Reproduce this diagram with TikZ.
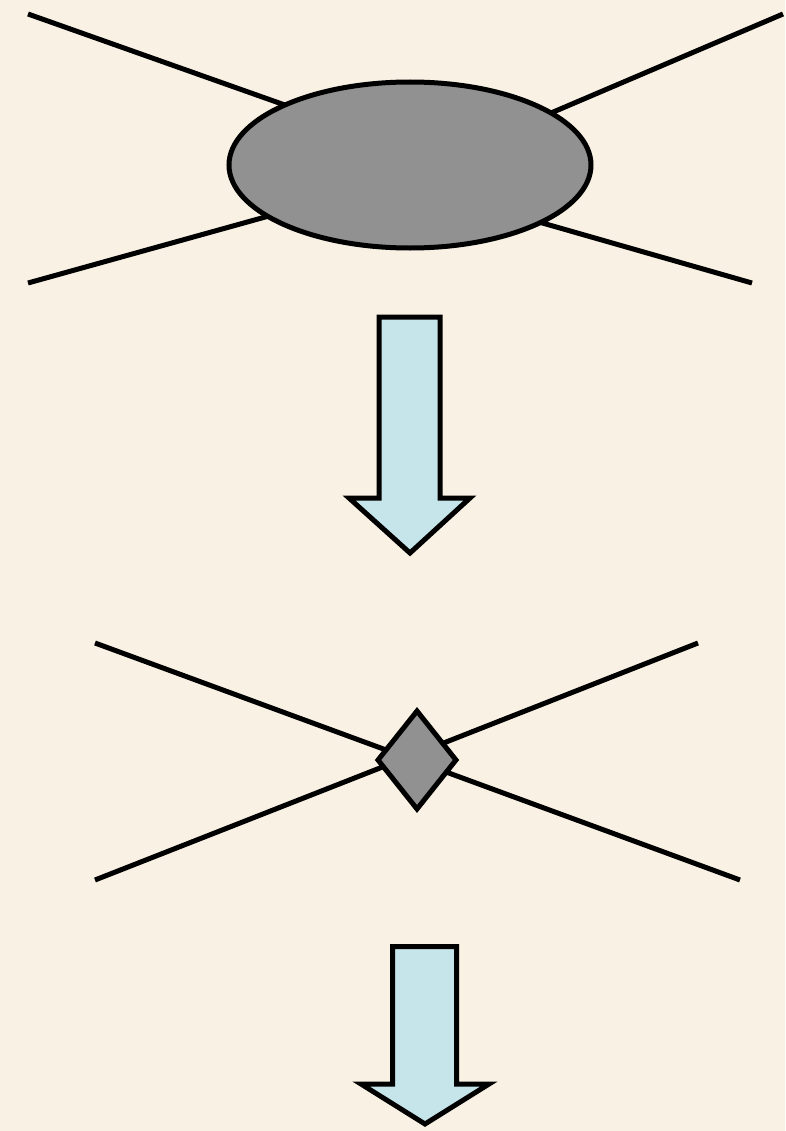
\documentclass[tikz,border=0pt]{standalone}
\usetikzlibrary{shapes.geometric}
\definecolor{bg}{RGB}{249,242,228}
\definecolor{gfill}{RGB}{145,145,145}
\definecolor{afill}{RGB}{198,229,234}
\tikzset{
  ln/.style={line width=3.75pt, black},
  blob/.style={draw=black, line width=3.75pt, fill=gfill, inner sep=0pt},
  bigarrow/.style={draw=black, line width=3.75pt, fill=afill, line join=miter},
}
\begin{document}
\begin{tikzpicture}[x=0.75pt,y=-0.75pt]
\fill[bg] (0,0) rectangle (785,1131);
\useasboundingbox (0,0) rectangle (785,1131);
% top diagram lines
\coordinate (tl) at (28,14);
\coordinate (tlin) at (330,121);
\coordinate (bl) at (28,283);
\coordinate (blin) at (330,199);
\coordinate (tr) at (783,14);
\coordinate (trin) at (490,139);
\coordinate (br) at (752,283);
\coordinate (brin) at (490,208);
\draw[ln] (tl) -- (tlin);
\draw[ln] (bl) -- (blin);
\draw[ln] (tr) -- (trin);
\draw[ln] (br) -- (brin);
\node[blob, ellipse, minimum width=271.5pt, minimum height=124.5pt] (ell) at (410,165) {};
% arrow 1
\draw[bigarrow] (379,317) -- (440,317) -- (440,498) -- (470,498) -- (410,553) -- (349,498) -- (379,498) -- cycle;
% middle diagram lines
\coordinate (xa) at (95,643);
\coordinate (xb) at (740,880);
\coordinate (xc) at (698,643);
\coordinate (xd) at (95,880);
\draw[ln] (xa) -- (xb);
\draw[ln] (xc) -- (xd);
\node[blob, diamond, minimum width=60pt, minimum height=75pt] (dia) at (417,760) {};
% arrow 2
\draw[bigarrow] (392.5,946.5) -- (456.5,946.5) -- (456.5,1084) -- (489,1084) -- (425,1124) -- (361,1084) -- (392.5,1084) -- cycle;
\end{tikzpicture}
\end{document}
